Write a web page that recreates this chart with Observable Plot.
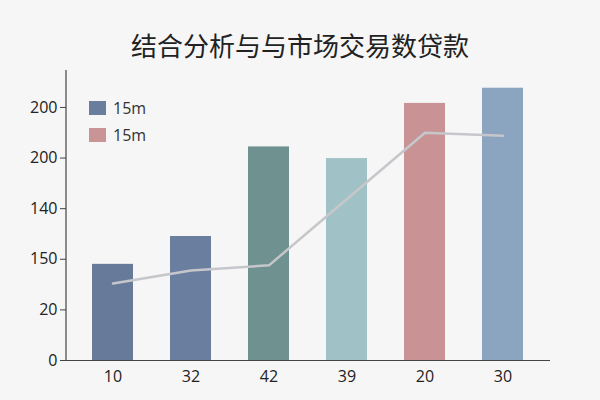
<!DOCTYPE html>
<html>
<head>
<meta charset="utf-8">
<script src="https://cdn.jsdelivr.net/npm/d3@7"></script>
<script src="https://cdn.jsdelivr.net/npm/@observablehq/plot@0.6"></script>
<style>
  html, body { margin: 0; padding: 0; }
  body { width: 600px; height: 400px; background: #f6f6f6; position: relative; overflow: hidden;
         font-family: "Open Sans", "Noto Sans CJK SC", sans-serif; }
  #title { height: 65px; line-height: 90px; text-align: center; font-size: 26px; color: #222;
           font-family: "Noto Sans CJK SC", sans-serif; }
  #legend { position: absolute; left: 89px; top: 94px; font-size: 16px; color: #333; }
  .item { display: flex; align-items: center; height: 27px; }
  .sw { width: 17px; height: 14px; margin-right: 7px; }
  #chart svg { display: block; background: transparent; }
  #chart svg text { font-size: 16px; fill: #222; font-family: "Open Sans", sans-serif; }
</style>
</head>
<body>
<div id="title"></div>
<div id="chart"></div>
<div id="legend"></div>
<script>
const title = "结合分析与与市场交易数贷款";
const categories = ["10", "32", "42", "39", "20", "30"];
// values in tick-position units (ticks are evenly spaced, labels below)
const barValues = [1.90, 2.45, 4.22, 3.99, 5.08, 5.38];
const lineValues = [1.52, 1.78, 1.88, 3.19, 4.50, 4.44];
const barColors = ["#687a9a", "#6a7e9f", "#6f918f", "#a0c2c6", "#c99294", "#8ba4c0"];
const tickPositions = [0, 1, 2, 3, 4, 5];
const tickLabels = ["0", "20", "150", "140", "200", "200"];
const legendLabels = ["15m", "15m"];
const legendColors = ["#6a7d9c", "#c99496"];
const yMax = 5.73;

document.getElementById("title").textContent = title;

const data = categories.map((c, i) => ({cat: c, bar: barValues[i], line: lineValues[i], color: barColors[i]}));

// custom mark: vertical y-axis line at the left edge of the frame
const yAxisLine = (index, scales, values, dim) => {
  const line = document.createElementNS("http://www.w3.org/2000/svg", "line");
  line.setAttribute("x1", dim.marginLeft);
  line.setAttribute("x2", dim.marginLeft);
  line.setAttribute("y1", scales.y(yMax));
  line.setAttribute("y2", scales.y(0));
  line.setAttribute("stroke", "#444");
  line.setAttribute("stroke-width", 1.2);
  return line;
};

const chart = Plot.plot({
  width: 600,
  height: 335,
  marginLeft: 66,
  marginRight: 50,
  marginTop: 5,
  marginBottom: 40,
  style: { fontFamily: "Open Sans, sans-serif", fontSize: "16px", color: "#222", background: "transparent" },
  x: { domain: categories, paddingInner: 0.47, paddingOuter: 0.30, label: null },
  y: { domain: [0, yMax], label: null },
  marks: [
    Plot.barY(data, { x: "cat", y: "bar", fill: "color" }),
    Plot.line(data, { x: "cat", y: "line", stroke: "#c6c7ca", strokeWidth: 2.5 }),
    Plot.ruleY([0], { stroke: "#444", strokeWidth: 1.2 }),
    yAxisLine,
    Plot.axisY({ ticks: tickPositions, tickFormat: (d, i) => tickLabels[i], tickSize: 6, tickPadding: 3, fontSize: 16, stroke: "#444", label: null }),
    Plot.axisX({ tickSize: 0, tickPadding: 10, fontSize: 16, label: null })
  ]
});
document.getElementById("chart").appendChild(chart);

const leg = document.getElementById("legend");
legendLabels.forEach((l, i) => {
  const d = document.createElement("div");
  d.className = "item";
  d.innerHTML = `<span class="sw" style="background:${legendColors[i]}"></span><span>${l}</span>`;
  leg.appendChild(d);
});
</script>
</body>
</html>
